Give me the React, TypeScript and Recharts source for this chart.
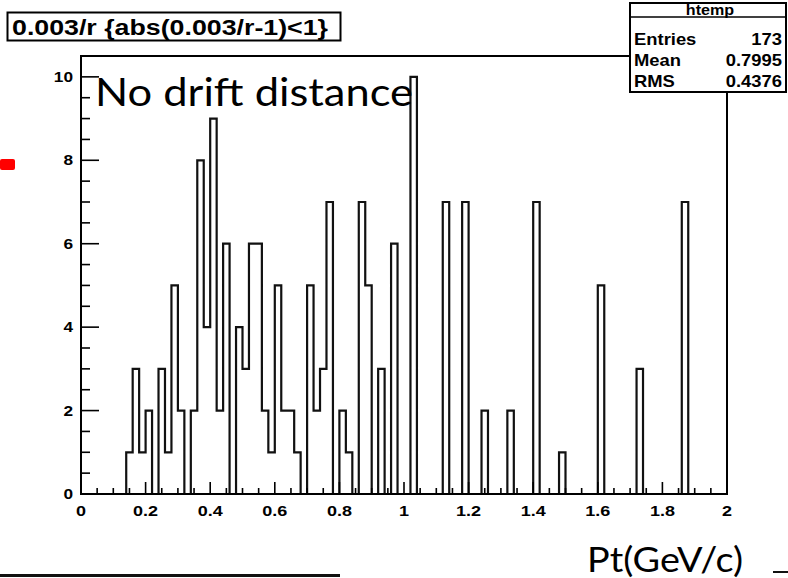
import { ComposedChart, Line, XAxis, YAxis, ReferenceArea } from "recharts";

// 100 bins of 0.02 from 0 to 2, counts
const binWidth = 0.02;
const counts = [
  0, 0, 0, 0, 0, 0, 0, 1, 3, 1,
  2, 0, 3, 1, 5, 2, 0, 2, 8, 4,
  9, 2, 6, 0, 4, 3, 6, 6, 2, 1,
  5, 2, 2, 1, 0, 5, 2, 3, 7, 0,
  2, 1, 0, 7, 5, 0, 3, 0, 6, 0,
  0, 10, 0, 0, 0, 0, 7, 0, 0, 7,
  0, 0, 2, 0, 0, 0, 2, 0, 0, 0,
  7, 0, 0, 0, 1, 0, 0, 0, 0, 0,
  5, 0, 0, 0, 0, 0, 3, 0, 0, 0,
  0, 0, 0, 7, 0, 0, 0, 0, 0, 0,
];

const majorXTicks = [0, 0.2, 0.4, 0.6, 0.8, 1, 1.2, 1.4, 1.6, 1.8, 2];
const xTickLabels = ["0", "0.2", "0.4", "0.6", "0.8", "1", "1.2", "1.4", "1.6", "1.8", "2"];
const majorYTicks = [0, 2, 4, 6, 8, 10];
const yTickLabels = ["0", "2", "4", "6", "8", "10"];

const statNames = ["Entries", "Mean", "RMS"];
const statValues = ["173", "0.7995", "0.4376"];

const title = "0.003/r {abs(0.003/r-1)<1}";

// step outline: one point per bin edge
const histData = counts
  .map((n, i) => ({ x: Math.round(i * binWidth * 1000) / 1000, n }))
  .concat([{ x: Math.round(counts.length * binWidth * 1000) / 1000, n: 0 }]);

// 4 subdivisions between labelled ticks
const subdivide = (majors: number[]) => {
  const out: number[] = [];
  majors.forEach((m, i) => {
    out.push(m);
    if (i < majors.length - 1) {
      const step = (majors[i + 1] - m) / 4;
      for (let k = 1; k < 4; k++) out.push(Math.round((m + k * step) * 1000) / 1000);
    }
  });
  return out;
};
const allXTicks = subdivide(majorXTicks);
const allYTicks = subdivide(majorYTicks);

const rootFont = "'Liberation Sans', Arial, sans-serif";
const slideFont = "Lato, 'Noto Sans', sans-serif";

const findMajor = (list: number[], v: number) => list.findIndex((m) => Math.abs(m - v) < 1e-6);

const XTick = (props: any) => {
  const { x, y, payload } = props;
  const idx = findMajor(majorXTicks, payload.value);
  const major = idx >= 0;
  return (
    <g>
      <line x1={x} x2={x} y1={y} y2={y - (major ? 12 : 6)} stroke="#000" strokeWidth={1.6} />
      {major && (
        <text
          transform={`translate(${x},${y + 22}) scale(1.2,1)`}
          textAnchor="middle"
          fontFamily={rootFont}
          fontWeight="bold"
          fontSize={15}
          fill="#000"
        >
          {xTickLabels[idx]}
        </text>
      )}
    </g>
  );
};

const YTick = (props: any) => {
  const { x, y, payload } = props;
  const idx = findMajor(majorYTicks, payload.value);
  const major = idx >= 0;
  return (
    <g>
      <line x1={x} x2={x + (major ? 18 : 9)} y1={y} y2={y} stroke="#000" strokeWidth={1.6} />
      {major && (
        <text
          transform={`translate(${x - 8},${y + 5}) scale(1.15,1)`}
          textAnchor="end"
          fontFamily={rootFont}
          fontWeight="bold"
          fontSize={15}
          fill="#000"
        >
          {yTickLabels[idx]}
        </text>
      )}
    </g>
  );
};

function Overlay() {
  return (
    <svg
      width={788}
      height={578}
      style={{ position: "absolute", left: 0, top: 0, pointerEvents: "none" }}
    >
      {/* title box */}
      <rect x={7.5} y={12.5} width={333} height={28} fill="#fff" stroke="#000" strokeWidth={2} />
      <text x={12} y={35} fontFamily={rootFont} fontWeight="bold" fontSize={22} textLength={316} lengthAdjust="spacingAndGlyphs">
        {title}
      </text>

      {/* stats box */}
      <rect x={630} y={3} width={156} height={89} fill="#fff" stroke="#000" strokeWidth={2} />
      <line x1={630} x2={786} y1={17} y2={17} stroke="#000" strokeWidth={1.5} />
      <text transform="translate(710,15) scale(1.15,1)" textAnchor="middle" fontFamily={rootFont} fontWeight="bold" fontSize={14}>
        htemp
      </text>
      {statNames.map((name, i) => (
        <g key={name}>
          <text transform={`translate(634,${45 + i * 21}) scale(1.15,1)`} fontFamily={rootFont} fontWeight="bold" fontSize={16}>
            {name}
          </text>
          <text transform={`translate(782,${45 + i * 21}) scale(1.15,1)`} textAnchor="end" fontFamily={rootFont} fontWeight="bold" fontSize={16}>
            {statValues[i]}
          </text>
        </g>
      ))}

      {/* slide annotations */}
      <text x={95} y={106} fontFamily={slideFont} fontSize={39} textLength={318} lengthAdjust="spacingAndGlyphs">
        No drift distance
      </text>
      <text x={587} y={572} fontFamily={slideFont} fontSize={35} textLength={156} lengthAdjust="spacingAndGlyphs">
        Pt(GeV/c)
      </text>
      <rect x={0} y={159} width={15} height={11} rx={2} fill="#ff0000" />
      <line x1={0} x2={340} y1={575.5} y2={575.5} stroke="#111" strokeWidth={3} />
      <line x1={773} x2={788} y1={572} y2={572} stroke="#111" strokeWidth={2} />
    </svg>
  );
}

export default function App() {
  return (
    <div style={{ position: "absolute", left: 0, top: 0, width: 788, height: 578, background: "#fff" }}>
      <ComposedChart
        width={788}
        height={578}
        data={histData}
        margin={{ top: 56, right: 61, bottom: 54, left: 41 }}
      >
        <XAxis
          type="number"
          dataKey="x"
          domain={[0, 2]}
          ticks={allXTicks}
          interval={0}
          tickSize={0}
          tickMargin={0}
          tickLine={false}
          tick={<XTick />}
          axisLine={{ stroke: "#000", strokeWidth: 2 }}
          height={30}
          allowDataOverflow
        />
        <YAxis
          type="number"
          domain={[0, 10.5]}
          ticks={allYTicks}
          interval={0}
          tickSize={0}
          tickMargin={0}
          tickLine={false}
          tick={<YTick />}
          axisLine={{ stroke: "#000", strokeWidth: 2 }}
          width={40}
          allowDataOverflow
        />
        <ReferenceArea x1={0} x2={2} y1={0} y2={10.5} fill="none" stroke="#000" strokeWidth={2} />
        <Line
          type="stepAfter"
          dataKey="n"
          stroke="#111"
          strokeWidth={2.2}
          dot={false}
          activeDot={false}
          isAnimationActive={false}
        />
      </ComposedChart>
      <Overlay />
    </div>
  );
}
